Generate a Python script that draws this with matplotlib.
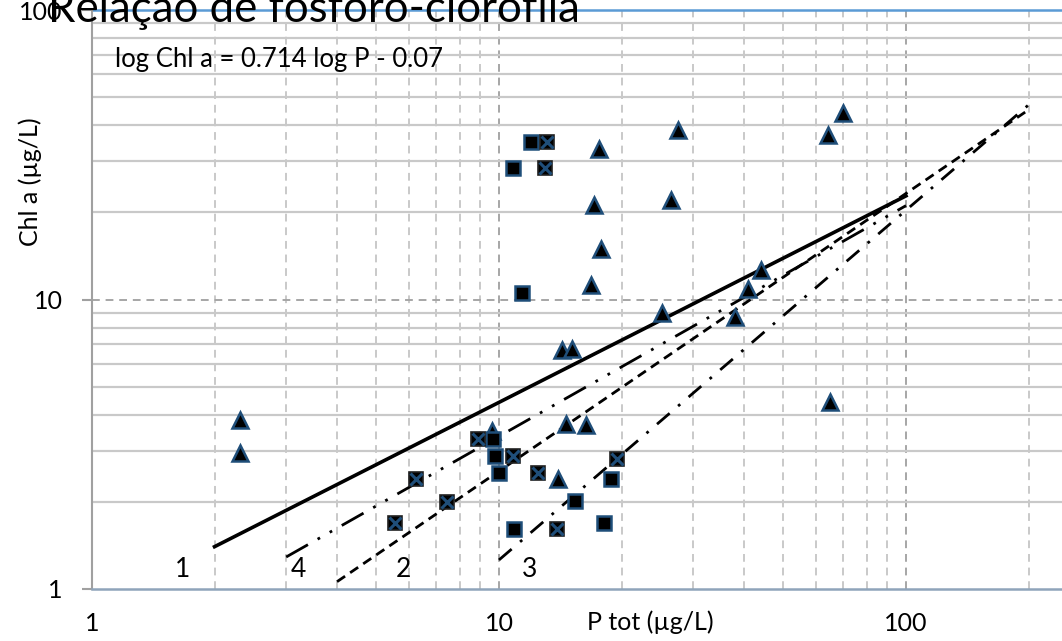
import matplotlib
matplotlib.use("Agg")
import matplotlib.pyplot as plt
from matplotlib.ticker import FixedLocator, NullFormatter

plt.rcParams['font.family'] = ['Lato', 'DejaVu Sans']

# ---- data ----
tri_p = [2.31, 2.31, 27.5, 17.6, 70.2, 64.4, 17.1, 26.5, 17.8, 16.8, 44.0, 40.8,
         25.1, 38.0, 14.3, 15.1, 64.9, 9.6, 14.6, 16.4, 14.0]
tri_chl = [3.84, 2.95, 38.5, 33.0, 44.0, 37.0, 21.2, 22.1, 15.0, 11.2, 12.6, 10.9,
           8.96, 8.72, 6.7, 6.75, 4.44, 3.50, 3.72, 3.70, 2.40]

sq_p = [9.68, 9.78, 10.0, 18.8, 15.4, 10.9, 18.1, 12.0, 10.84, 11.4]
sq_chl = [3.29, 2.89, 2.51, 2.40, 2.01, 1.61, 1.69, 34.9, 28.5, 10.5]

xsq_p = [8.89, 10.84, 12.5, 19.5, 6.25, 7.46, 5.55, 13.9, 13.1, 12.97]
xsq_chl = [3.29, 2.89, 2.51, 2.81, 2.40, 2.00, 1.69, 1.61, 34.9, 28.5]

# regression lines (end points)
line_names = ['1', '2', '3', '4']
line_p = [[2, 100], [4, 200], [10, 200], [3, 100]]
line_chl = [[1.40, 22.8], [1.06, 45.2], [1.26, 47.0], [1.29, 21.1]]
label_p = [1.67, 5.84, 11.9, 3.21]
label_chl = [1.17, 1.17, 1.17, 1.17]

title = "Relação de fósforo-clorofila"
equation = "log Chl a = 0.714 log P - 0.07"
xlabel = "P tot (µg/L)"
ylabel = "Chl a (µg/L)"

# ---- figure ----
W, H = 1062, 641
fig = plt.figure(figsize=(W / 100, H / 100), dpi=100)
ax = fig.add_axes([92 / W, 1 - 589 / H, (W - 92) / W, (589 - 10) / H])
ax.set_xscale('log')
ax.set_yscale('log')
ax.set_xlim(1, 10 ** ((W - 92) / 407))
ax.set_ylim(1, 100)

# grid lines
light = '#C9C9C9'
dark = '#A6A6A6'
for dec in [1, 10, 100]:
    for m in range(2, 10):
        v = dec * m
        if v < ax.get_xlim()[1]:
            ax.axvline(v, color=light, lw=1.4, ls=(0, (4, 3)), zorder=0)
for v in [10, 100]:
    ax.axvline(v, color=dark, lw=1.4, ls=(0, (4, 3)), zorder=0)
for dec in [1, 10]:
    for m in range(2, 10):
        ax.axhline(dec * m, color=light, lw=1.6, zorder=0)
ax.axhline(10, color=dark, lw=1.4, ls=(0, (4, 3)), zorder=0)
ax.axhline(100, color='#5B9BD5', lw=1.8, zorder=1, clip_on=False)

# spines
for s in ['top', 'right']:
    ax.spines[s].set_visible(False)
ax.spines['left'].set_color('#A0A0A0')
ax.spines['left'].set_linewidth(1.5)
ax.spines['bottom'].set_color('#8FA4BA')
ax.spines['bottom'].set_linewidth(1.8)

# ticks
ax.xaxis.set_major_locator(FixedLocator([1, 10, 100]))
ax.xaxis.set_minor_formatter(NullFormatter())
ax.xaxis.set_minor_locator(FixedLocator([]))
ax.yaxis.set_major_locator(FixedLocator([1, 10, 100]))
ax.yaxis.set_minor_locator(FixedLocator([]))
ax.set_xticklabels(['1', '10', '100'])
ax.set_yticklabels(['1', '10', '100'])
ax.tick_params(axis='x', length=0, pad=16.5, labelsize=18, colors='black')
ax.tick_params(axis='y', length=7, width=1.5, color='#A0A0A0', pad=14, labelsize=18, labelcolor='black')

# lines
styles = {
    '1': dict(ls='-', lw=2.6),
    '2': dict(ls=(0, (3.5, 2.2)), lw=2.0),
    '3': dict(ls=(0, (6, 4, 1, 4)), lw=2.0),
    '4': dict(ls=(0, (9, 4, 1, 4, 1, 4)), lw=2.0),
}
for name, xs, ys in zip(line_names, line_p, line_chl):
    ax.plot(xs, ys, color='black', zorder=3, **styles[name])

for name, lx, ly in zip(line_names, label_p, label_chl):
    ax.text(lx, ly, name, fontsize=19, ha='center', va='center', zorder=4)

# markers
navy = '#1F4E79'
ax.plot(tri_p, tri_chl, ls='none', marker='^', ms=12, mfc='black', mec=navy, mew=1.8, zorder=5)
ax.plot(sq_p, sq_chl, ls='none', marker='s', ms=9.5, mfc='black', mec=navy, mew=1.8, zorder=5)
ax.plot(xsq_p, xsq_chl, ls='none', marker='s', ms=9.5, mfc='black', mec='#222222', mew=1.2, zorder=5)
ax.plot(xsq_p, xsq_chl, ls='none', marker='x', ms=8, mec=navy, mew=2.2, zorder=6)

# texts
ax.text(1.14, 67.2, equation, fontsize=18.5, ha='left', va='center', zorder=4)
fig.text(650 / W, 1 - 622 / H, xlabel, fontsize=18, ha='center', va='center')
fig.text(30 / W, 1 - 182 / H, ylabel, fontsize=18, ha='center', va='center', rotation=90)
fig.text(48 / W, 1 - 22 / H, title, fontsize=31.5, ha='left', va='baseline')

fig.savefig('out.png', dpi=100)
